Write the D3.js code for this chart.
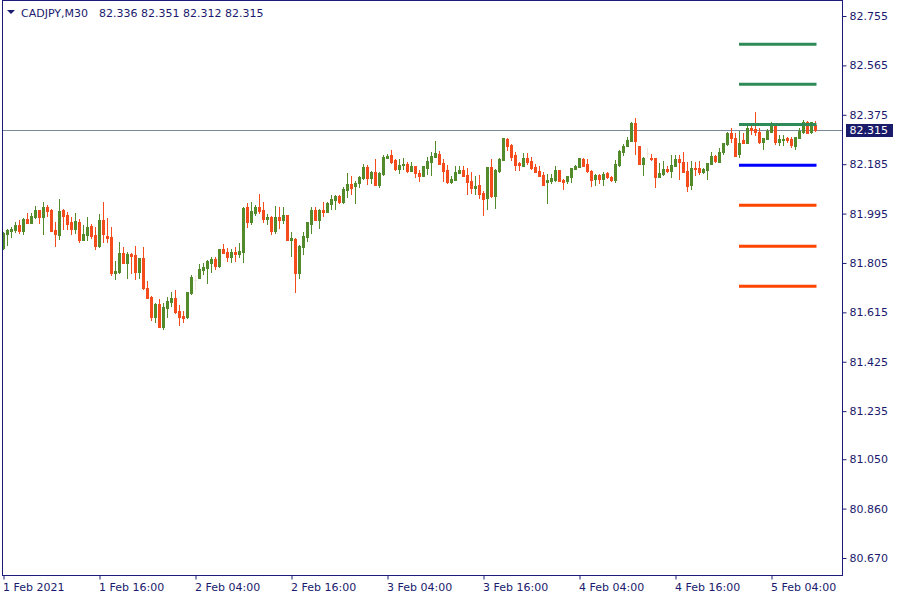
<!DOCTYPE html>
<html><head><meta charset="utf-8">
<script src="https://cdnjs.cloudflare.com/ajax/libs/d3/7.8.5/d3.min.js"></script>
<style>
body{margin:0;background:#fff}
svg{display:block}
text{font-family:"DejaVu Sans",sans-serif;font-size:11px;fill:#1a1a6e}
</style></head><body>
<svg id="chart" width="900" height="600"></svg>
<script>
const symbolName = "CADJPY,M30";
const opens = [81.861,81.918,81.928,81.932,81.951,81.929,81.974,81.960,81.983,82.009,81.983,82.020,82.009,81.932,81.914,82.009,81.990,81.963,81.937,81.963,81.895,81.914,81.947,81.913,81.871,81.970,81.909,81.905,81.768,81.771,81.843,81.806,81.839,81.836,81.771,81.824,81.709,81.674,81.598,81.647,81.560,81.633,81.655,81.670,81.620,81.602,81.598,81.689,81.740,81.748,81.779,81.787,81.805,81.820,81.793,81.859,81.847,81.828,81.847,81.841,81.847,82.020,81.963,81.999,82.020,82.009,81.974,81.982,81.929,81.982,81.970,81.990,81.895,81.897,81.768,81.868,81.906,81.956,82.009,81.970,82.009,82.001,82.032,82.047,82.063,82.040,82.086,82.109,82.101,82.113,82.132,82.174,82.132,82.155,82.106,82.147,82.209,82.220,82.201,82.166,82.182,82.186,82.159,82.178,82.151,82.140,82.170,82.194,82.213,82.224,82.190,82.163,82.117,82.124,82.151,82.163,82.143,82.120,82.093,82.105,82.074,82.055,82.174,82.063,82.159,82.201,82.282,82.259,82.220,82.190,82.178,82.209,82.197,82.174,82.159,82.143,82.117,82.120,82.124,82.163,82.124,82.120,82.136,82.166,82.174,82.205,82.186,82.159,82.128,82.143,82.128,82.151,82.136,82.124,82.182,82.232,82.255,82.274,82.343,82.255,82.186,82.228,82.209,82.209,82.136,82.147,82.166,82.159,82.178,82.205,82.194,82.159,82.105,82.170,82.170,82.155,82.163,82.186,82.217,82.194,82.232,82.263,82.305,82.286,82.225,82.278,82.268,82.324,82.320,82.309,82.270,82.282,82.309,82.332,82.270,82.278,82.286,82.282,82.255,82.286,82.309,82.347,82.309,82.336];
const highs = [81.925,81.934,81.943,81.963,81.970,81.977,81.997,81.997,82.025,82.009,82.039,82.027,82.011,81.963,82.051,82.013,82.000,81.981,81.997,81.974,81.952,81.982,81.955,81.945,81.993,82.039,81.978,81.943,81.813,81.886,81.866,81.848,81.845,81.870,81.824,81.866,81.736,81.678,81.652,81.666,81.651,81.674,81.693,81.701,81.643,81.621,81.693,81.759,81.759,81.801,81.805,81.816,81.828,81.828,81.859,81.878,81.863,81.859,81.866,81.882,82.020,82.036,82.039,82.028,82.070,82.039,81.993,81.986,82.024,82.020,82.020,81.990,81.924,81.901,81.874,81.924,81.963,82.020,82.020,82.013,82.039,82.039,82.066,82.066,82.066,82.097,82.151,82.140,82.120,82.140,82.186,82.182,82.159,82.205,82.155,82.220,82.224,82.240,82.205,82.205,82.209,82.194,82.194,82.178,82.163,82.178,82.213,82.232,82.274,82.236,82.205,82.182,82.140,82.178,82.178,82.178,82.170,82.155,82.140,82.143,82.082,82.174,82.205,82.166,82.209,82.286,82.286,82.263,82.232,82.194,82.228,82.228,82.213,82.186,82.178,82.155,82.147,82.147,82.178,82.163,82.128,82.140,82.170,82.182,82.209,82.209,82.205,82.163,82.147,82.147,82.155,82.155,82.140,82.201,82.240,82.263,82.290,82.347,82.363,82.255,82.213,82.247,82.224,82.209,82.190,82.197,82.178,82.220,82.220,82.220,82.232,82.194,82.197,82.194,82.197,82.170,82.190,82.232,82.220,82.247,82.267,82.309,82.324,82.305,82.313,82.305,82.340,82.336,82.386,82.324,82.286,82.320,82.347,82.336,82.297,82.297,82.290,82.290,82.290,82.324,82.355,82.351,82.347,82.351];
const lows = [81.859,81.874,81.906,81.925,81.921,81.918,81.958,81.958,81.979,81.960,81.918,81.987,81.927,81.871,81.898,81.937,81.937,81.918,81.921,81.887,81.895,81.895,81.902,81.860,81.867,81.887,81.887,81.760,81.745,81.768,81.806,81.748,81.768,81.745,81.748,81.704,81.671,81.587,81.579,81.560,81.552,81.598,81.639,81.614,81.568,81.579,81.594,81.687,81.701,81.748,81.764,81.729,81.771,81.782,81.789,81.843,81.813,81.810,81.814,81.829,81.810,81.945,81.956,81.990,81.999,81.963,81.955,81.918,81.921,81.941,81.959,81.895,81.833,81.695,81.748,81.841,81.891,81.921,81.970,81.941,81.986,82.001,82.013,82.013,82.036,82.036,82.059,82.070,82.036,82.097,82.128,82.109,82.113,82.106,82.098,82.143,82.209,82.190,82.163,82.151,82.166,82.155,82.159,82.136,82.120,82.140,82.147,82.143,82.213,82.186,82.120,82.113,82.113,82.124,82.151,82.140,82.070,82.074,82.070,82.055,81.990,82.013,82.059,82.016,82.155,82.201,82.240,82.201,82.163,82.163,82.178,82.186,82.166,82.155,82.140,82.105,82.036,82.113,82.120,82.120,82.090,82.113,82.117,82.166,82.174,82.178,82.155,82.101,82.105,82.113,82.105,82.132,82.120,82.117,82.178,82.220,82.255,82.274,82.224,82.186,82.143,82.213,82.201,82.097,82.136,82.143,82.155,82.136,82.178,82.128,82.155,82.082,82.090,82.143,82.147,82.151,82.128,82.186,82.194,82.194,82.224,82.259,82.270,82.218,82.214,82.268,82.268,82.301,82.297,82.266,82.243,82.282,82.309,82.263,82.259,82.259,82.270,82.251,82.243,82.286,82.305,82.305,82.305,82.312];
const closes = [81.921,81.932,81.936,81.951,81.929,81.974,81.960,81.986,82.009,81.983,82.020,82.006,81.929,81.918,82.005,81.987,81.956,81.937,81.966,81.895,81.918,81.943,81.910,81.871,81.970,81.918,81.902,81.768,81.774,81.843,81.806,81.839,81.833,81.771,81.824,81.709,81.671,81.598,81.648,81.560,81.636,81.659,81.671,81.617,81.598,81.594,81.693,81.751,81.740,81.782,81.789,81.813,81.820,81.793,81.859,81.843,81.828,81.847,81.841,81.851,82.016,81.963,82.005,82.020,82.005,81.974,81.982,81.929,81.982,81.970,81.990,81.895,81.901,81.768,81.870,81.909,81.963,82.009,81.970,82.009,82.001,82.036,82.051,82.063,82.040,82.090,82.109,82.093,82.113,82.136,82.174,82.132,82.155,82.106,82.151,82.213,82.217,82.194,82.166,82.182,82.186,82.159,82.178,82.151,82.140,82.178,82.197,82.217,82.228,82.186,82.159,82.117,82.128,82.155,82.163,82.140,82.117,82.093,82.101,82.070,82.051,82.174,82.063,82.163,82.205,82.286,82.255,82.213,82.182,82.182,82.209,82.194,82.170,82.155,82.140,82.105,82.124,82.132,82.163,82.120,82.117,82.140,82.170,82.178,82.209,82.178,82.159,82.124,82.143,82.128,82.147,82.136,82.124,82.186,82.236,82.255,82.278,82.343,82.274,82.186,82.209,82.228,82.205,82.136,82.151,82.166,82.159,82.182,82.205,82.194,82.155,82.101,82.170,82.166,82.155,82.166,82.190,82.217,82.197,82.232,82.267,82.305,82.287,82.218,82.266,82.268,82.324,82.317,82.309,82.270,82.286,82.313,82.343,82.270,82.282,82.282,82.278,82.259,82.290,82.313,82.347,82.305,82.347,82.315];

const xTickIndex = [0,24,48,72,96,120,144,168,192];
const xTickLabels = ["1 Feb 2021","1 Feb 16:00","2 Feb 04:00","2 Feb 16:00","3 Feb 04:00","3 Feb 16:00","4 Feb 04:00","4 Feb 16:00","5 Feb 04:00"];
const yTickValues = [82.755,82.565,82.375,82.185,81.995,81.805,81.615,81.425,81.235,81.050,80.860,80.670];
const yTickLabels = ["82.755","82.565","82.375","82.185","81.995","81.805","81.615","81.425","81.235","81.050","80.860","80.670"];
const pivotNames = ["R3","R2","R1","P","S1","S2","S3"];
const pivotValues = [82.646,82.492,82.338,82.181,82.027,81.869,81.715];
const pivotStartIndex = 184;

const W=900,H=600;
const plot={left:2.5,right:842.5,top:0.5,bottom:575.5};
const navy="#1c1c78";
const bullColor="#538a2b", bearColor="#f54c1d", dojiColor="#f1e7df";

const svg=d3.select("#chart");
const n=opens.length;
const x=d3.scaleLinear().domain([0,n-1]).range([3.5,3.5+4*(n-1)]);
const y=d3.scaleLinear().domain([80.670,82.755]).range([558,16]);

svg.append("rect").attr("x",0).attr("y",0).attr("width",W).attr("height",H).attr("fill","#fff");

// current price line
const last=closes[n-1];
const yl=Math.round(y(last))+0.5;
svg.append("line").attr("x1",plot.left).attr("x2",plot.right).attr("y1",yl).attr("y2",yl)
  .attr("stroke","#7b8a9a").attr("stroke-width",1);

const data=d3.range(n).map(i=>({i,o:opens[i],h:highs[i],l:lows[i],c:closes[i]}));
const col=d=>d.c>d.o?bullColor:(d.c<d.o?bearColor:dojiColor);
const g=svg.append("g").attr("shape-rendering","crispEdges");
g.selectAll(".wick").data(data).join("rect")
  .attr("x",d=>x(d.i)-0.5).attr("width",1)
  .attr("y",d=>Math.round(y(d.h))).attr("height",d=>Math.max(1,Math.round(y(d.l))-Math.round(y(d.h))+1))
  .attr("fill",col);
g.selectAll(".body").data(data).join("rect")
  .attr("x",d=>x(d.i)-1.5).attr("width",3)
  .attr("y",d=>Math.round(y(Math.max(d.o,d.c))))
  .attr("height",d=>Math.max(1,Math.round(y(Math.min(d.o,d.c)))-Math.round(y(Math.max(d.o,d.c)))+1))
  .attr("fill",col);

// pivot lines
const pivCol=nm=>nm[0]==="R"?"#2e8b57":(nm[0]==="P"?"#0000ff":"#ff4500");
svg.append("g").selectAll("line").data(pivotNames.map((nm,k)=>({nm,v:pivotValues[k]}))).join("line")
  .attr("x1",x(pivotStartIndex)-0.5).attr("x2",x(n-1)+1)
  .attr("y1",d=>y(d.v)).attr("y2",d=>y(d.v))
  .attr("stroke",d=>pivCol(d.nm)).attr("stroke-width",3);

// frame
svg.append("rect").attr("x",plot.left).attr("y",plot.top).attr("width",plot.right-plot.left).attr("height",plot.bottom-plot.top)
  .attr("fill","none").attr("stroke",navy).attr("stroke-width",1).attr("shape-rendering","crispEdges");

// right axis
const ya=svg.append("g").attr("transform",`translate(${plot.right},0)`)
  .call(d3.axisRight(y).tickValues(yTickValues).tickFormat((d,i)=>yTickLabels[i]).tickSize(4).tickPadding(3));
ya.select(".domain").remove();
ya.selectAll("line").attr("stroke",navy);
ya.selectAll("text").attr("fill","#1a1a6e").style("font-family","DejaVu Sans").style("font-size","11px");

// bottom axis
const xa=svg.append("g").attr("transform",`translate(0,${plot.bottom})`)
  .call(d3.axisBottom(x).tickValues(xTickIndex).tickFormat((d,i)=>xTickLabels[i]).tickSize(4).tickPadding(4));
xa.select(".domain").remove();
xa.selectAll("line").attr("stroke",navy);
xa.selectAll("text").attr("text-anchor","start").attr("dx","-1").attr("fill","#1a1a6e").style("font-family","DejaVu Sans").style("font-size","11px");

// price label
svg.append("rect").attr("x",846).attr("y",yl-6.5).attr("width",47).attr("height",13).attr("fill","#1b1b6b");
svg.append("text").attr("x",849.5).attr("y",yl).attr("dy","0.34em").attr("fill","#ffffff").style("fill","#fff").text(last.toFixed(3));

// title
svg.append("path").attr("d","M7,10 L15,10 L11,14 Z").attr("fill","#1a1a6e");
svg.append("text").attr("x",21).attr("y",17).text(symbolName);
svg.append("text").attr("x",99).attr("y",17)
  .text([opens[n-1],highs[n-1],lows[n-1],closes[n-1]].map(v=>v.toFixed(3)).join(" "));
</script></body></html>
